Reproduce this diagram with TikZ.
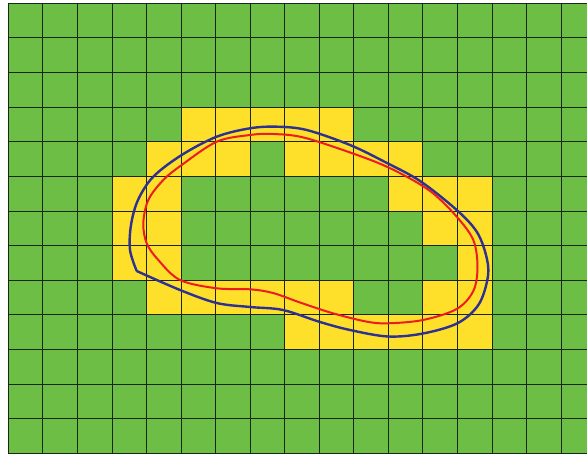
\documentclass[tikz,border=0pt]{standalone}
\definecolor{gridgreen}{RGB}{109,190,69}
\definecolor{cellyellow}{RGB}{254,223,42}
\definecolor{curveblue}{RGB}{46,49,146}
\definecolor{curvered}{RGB}{237,28,36}
\definecolor{gridink}{RGB}{25,38,20}
\begin{document}
\begin{tikzpicture}[x=1pt,y=-1pt,
  cellfill/.style={fill=cellyellow},
  gridline/.style={draw=gridink,line width=0.9pt},
  outerblue/.style={draw=curveblue,line width=2.4pt,line join=round},
  innerred/.style={draw=curvered,line width=2pt,line join=round}]
\def\cw{34.55}
\def\ch{34.615}
\def\ox{8.3}
\def\oy{3.3}
\useasboundingbox (0,0) rectangle (587,454);
\fill[white] (0,0) rectangle (587,454);
\begin{scope}
\clip (0,0) rectangle (587,454);
\fill[gridgreen] (\ox,\oy) rectangle (600,453.3);
\foreach \c/\r in {5/3,6/3,7/3,8/3,9/3,
                   4/4,5/4,6/4,8/4,9/4,10/4,11/4,
                   3/5,4/5,11/5,12/5,13/5,
                   3/6,4/6,12/6,13/6,
                   3/7,4/7,13/7,
                   4/8,5/8,6/8,7/8,8/8,9/8,12/8,13/8,
                   8/9,9/9,10/9,11/9,12/9,13/9}
  \fill[cellfill] ({\ox+\c*\cw},{\oy+\r*\ch}) rectangle ++(\cw,\ch);
\foreach \i in {0,...,16}
  \draw[gridline] ({\ox+\i*\cw},\oy) -- ({\ox+\i*\cw},453.3);
\foreach \j in {0,...,13}
  \draw[gridline] (\ox,{\oy+\j*\ch}) -- (600,{\oy+\j*\ch});
\end{scope}
% outer (blue) curve with a corner at its left end
\draw[outerblue] plot[smooth,tension=0.55] coordinates {
  (136.7,271) (180,290) (216.7,303) (250,307) (283,310) (320,322)
  (350,330) (388,336.5) (423,333.5) (458,323) (479,304) (488,276)
  (486,255) (476.7,231.7) (456.7,210) (420,181) (385,162) (350,145)
  (306.7,130) (276.7,126.7) (250,128.3) (216.7,136.7)
  (181.7,155) (153.3,176.7) (138,200) (131,225) (130,250) (136.7,271)};
% inner (red) curve
\draw[innerred] plot[smooth cycle,tension=0.55] coordinates {
  (180,280) (216.7,288.3) (250,289.3) (273,293) (300,302.5) (333,313.3)
  (367,321.7) (388,323.3) (423,320) (456.7,309) (473.3,291) (477.5,267)
  (473.3,240) (456.7,216.7) (433,193.3) (406.7,176.7) (372,160.5)
  (306.7,138.3) (273.3,134) (250,135) (216.7,141.7) (181.7,165)
  (163.3,180) (148.3,200) (143.3,223.3) (146.7,243.3) (158.3,260)};
\end{tikzpicture}
\end{document}
